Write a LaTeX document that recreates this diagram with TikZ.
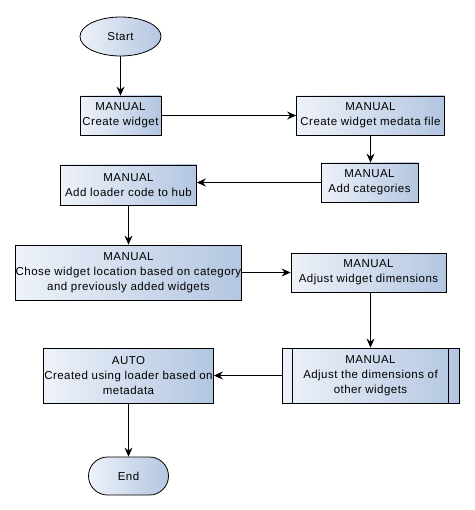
\documentclass[tikz,border=0pt]{standalone}
\usepackage{fontspec}
\setmainfont{Liberation Sans}[LetterSpace=4]
\usetikzlibrary{arrows.meta,shapes.geometric}
\definecolor{fillL}{HTML}{EEF2F9}
\definecolor{fillR}{HTML}{B3C6E1}
\tikzset{
  box/.style={draw=black, line width=0.8pt, left color=fillL, right color=fillR,
    inner sep=0pt, align=center, font=\fontsize{11.5}{15}\selectfont},
  flow/.style={draw=black, line width=1.2pt,
    -{Stealth[length=9pt,width=8pt,inset=3pt]}},
  sidebar/.style={draw=black, line width=0.8pt},
}
\begin{document}
\begin{tikzpicture}[x=1pt,y=-1pt]
\useasboundingbox (0,0) rectangle (474,510);

% terminals and steps
\node[box, ellipse, minimum width=81, minimum height=39] (start) at (120.5,36.5) {Start};
\node[box, minimum width=81, minimum height=39] (cw) at (120.5,115.5) {MANUAL\\Create widget};
\node[box, minimum width=148, minimum height=39] (md) at (370.5,115.5) {MANUAL\\Create widget medata file};
\node[box, minimum width=97, minimum height=39] (cat) at (369.5,182.5) {MANUAL\\Add categories};
\node[box, minimum width=136, minimum height=40] (ld) at (128.5,185) {MANUAL\\Add loader code to hub};
\node[box, minimum width=224, minimum height=55] (ch) at (128.5,272.5) {MANUAL\\Chose widget location based on category\\and previously added widgets};
\node[box, minimum width=155, minimum height=39] (aw) at (368.5,272.5) {MANUAL\\Adjust widget dimensions};
\node[box, minimum width=177, minimum height=55] (ad) at (370.5,375.5) {MANUAL\\Adjust the dimensions of\\other widgets};
\draw[sidebar] ([xshift=11pt]ad.north west) -- ([xshift=11pt]ad.south west);
\draw[sidebar] ([xshift=-11pt]ad.north east) -- ([xshift=-11pt]ad.south east);
\node[box, minimum width=170, minimum height=55] (au) at (128.5,375.5) {AUTO\\Created using loader based on\\metadata};
\node[box, rectangle, rounded corners=19pt, minimum width=80, minimum height=38] (end) at (128.5,476) {End};

% connectors
\draw[flow] (start) -- (cw);
\draw[flow] (cw.east) -- (md.west);
\draw[flow] (md.south) -- (md.south |- cat.north);
\draw[flow] (cat.west) -- (cat.west -| ld.east);
\draw[flow] (ld) -- (ch);
\draw[flow] (ch.east) -- (aw.west);
\draw[flow] (ad.north |- aw.south) -- (ad.north);
\draw[flow] (ad.west) -- (au.east);
\draw[flow] (au) -- (end);
\end{tikzpicture}
\end{document}
